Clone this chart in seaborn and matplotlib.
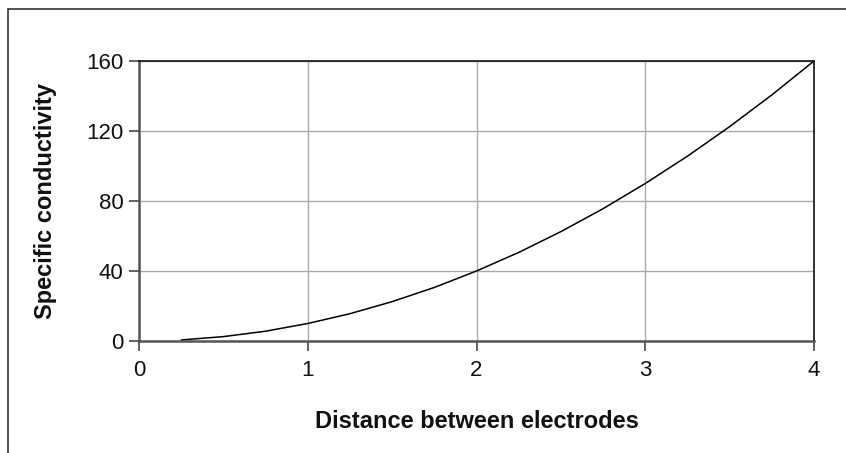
import numpy as np
import pandas as pd
import matplotlib
matplotlib.use("Agg")
import matplotlib.pyplot as plt
import seaborn as sns
from matplotlib.patches import Rectangle

# values
distance = [0.25, 0.5, 0.75, 1.0, 1.25, 1.5, 1.75, 2.0, 2.25, 2.5, 2.75, 3.0, 3.25, 3.5, 3.75, 4.0]
conductivity = [0.6, 2.5, 5.6, 10.0, 15.6, 22.5, 30.6, 40.0, 50.6, 62.5, 75.6, 90.0, 105.6, 122.5, 140.6, 160.0]
x_ticks = [0, 1, 2, 3, 4]
y_ticks = [0, 40, 80, 120, 160]

df = pd.DataFrame({"distance": distance, "conductivity": conductivity})

sns.set_theme(style="white")
plt.rcParams["font.family"] = ["Liberation Sans", "DejaVu Sans"]

fig = plt.figure(figsize=(8.46, 4.53), dpi=100)
ax = fig.add_axes([139 / 846, 1 - 341 / 453, (814 - 139) / 846, (341 - 61) / 453])

sns.lineplot(data=df, x="distance", y="conductivity", ax=ax, color="black", linewidth=1.1)

ax.set_xlim(0, 4)
ax.set_ylim(0, 160)
ax.set_xticks(x_ticks)
ax.set_yticks(y_ticks)
ax.grid(True, color="#aaaaaa", linewidth=1)
ax.tick_params(axis="both", direction="out", length=7, width=1.2, color="#444444",
               labelsize=16, labelcolor="#111111", bottom=True, left=True)
ax.tick_params(axis="x", pad=7)
ax.tick_params(axis="y", pad=4)

for s in ["left", "bottom"]:
    ax.spines[s].set_color("#555555")
    ax.spines[s].set_linewidth(1.8)
for s in ["top", "right"]:
    ax.spines[s].set_color("#111111")
    ax.spines[s].set_linewidth(1.2)

ax.set_xlabel("Distance between electrodes", fontsize=17, fontweight="bold", color="#111111")
ax.set_ylabel("Specific conductivity", fontsize=17, fontweight="bold", color="#111111")
ax.xaxis.label.set_verticalalignment("center")
ax.yaxis.label.set_verticalalignment("center")
ax.xaxis.set_label_coords(0.5, (341 - 421) / 280)
ax.yaxis.set_label_coords((46 - 139) / 675, 0.5)

# outer frame
fig.patches.append(Rectangle((8 / 846, -0.1), 1.2, 1 - 9 / 453 + 0.1, transform=fig.transFigure,
                             fill=False, edgecolor="#333333", linewidth=1.2))

fig.savefig("out.png", dpi=100)
